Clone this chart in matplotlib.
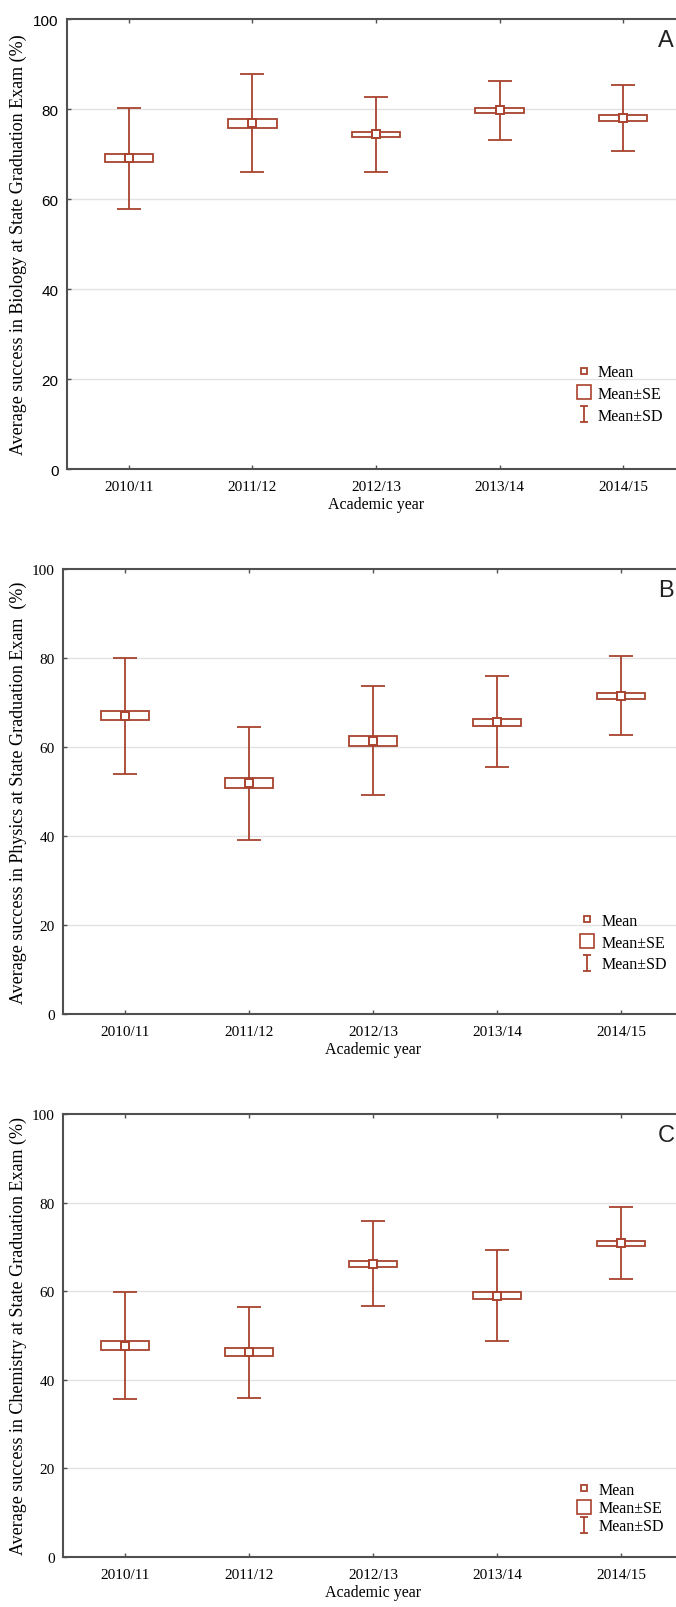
import matplotlib
matplotlib.use("Agg")
import matplotlib.pyplot as plt
from matplotlib.lines import Line2D
from matplotlib.path import Path
import numpy as np

years = ["2010/11", "2011/12", "2012/13", "2013/14", "2014/15"]

bio_mean = [69.1, 76.8, 74.4, 79.7, 78.0]
bio_se_lo = [68.2, 75.8, 73.7, 79.1, 77.3]
bio_se_hi = [70.0, 77.7, 75.0, 80.2, 78.6]
bio_sd_lo = [57.8, 65.9, 66.1, 73.2, 70.6]
bio_sd_hi = [80.3, 87.7, 82.6, 86.3, 85.4]

phys_mean = [67.0, 51.9, 61.4, 65.7, 71.5]
phys_se_lo = [66.0, 50.8, 60.3, 64.8, 70.8]
phys_se_hi = [68.0, 53.0, 62.4, 66.4, 72.2]
phys_sd_lo = [54.0, 39.0, 49.2, 55.4, 62.6]
phys_sd_hi = [79.9, 64.5, 73.6, 76.0, 80.4]

chem_mean = [47.7, 46.3, 66.2, 59.0, 70.8]
chem_se_lo = [46.7, 45.4, 65.4, 58.2, 70.1]
chem_se_hi = [48.7, 47.1, 66.9, 59.8, 71.4]
chem_sd_lo = [35.6, 36.0, 56.7, 48.8, 62.8]
chem_sd_hi = [59.8, 56.5, 75.8, 69.3, 79.1]

RED = "#a9432f"
SPINE = "#505050"
SERIF = "Liberation Serif"
SANS = "Liberation Sans"

W, H = 676, 1608
fig = plt.figure(figsize=(W / 100, H / 100), dpi=100)

# panel boxes in pixels: left, top, right, bottom
panels = [
    dict(box=(67, 20, 685, 470), letter="A", subject="Biology", pct=" (%)",
         mean=bio_mean, se_lo=bio_se_lo, se_hi=bio_se_hi, sd_lo=bio_sd_lo, sd_hi=bio_sd_hi,
         yfont=SANS, leg=(0.81, 0.25), lspace=0.35),
    dict(box=(63, 570, 683, 1015), letter="B", subject="Physics", pct="  (%)",
         mean=phys_mean, se_lo=phys_se_lo, se_hi=phys_se_hi, sd_lo=phys_sd_lo, sd_hi=phys_sd_hi,
         yfont=SERIF, leg=(0.82, 0.245), lspace=0.35),
    dict(box=(63, 1115, 683, 1558), letter="C", subject="Chemistry", pct=" (%)",
         mean=chem_mean, se_lo=chem_se_lo, se_hi=chem_se_hi, sd_lo=chem_sd_lo, sd_hi=chem_sd_hi,
         yfont=SERIF, leg=(0.815, 0.188), lspace=0.15),
]

sd_path = Path([(-0.5, 1), (0.5, 1), (0, 1), (0, -1), (-0.5, -1), (0.5, -1)],
               [Path.MOVETO, Path.LINETO, Path.MOVETO, Path.LINETO, Path.MOVETO, Path.LINETO])

x = np.arange(len(years))

for p in panels:
    l, t, r, b = p["box"]
    ax = fig.add_axes([l / W, (H - b) / H, (r - l) / W, (b - t) / H])
    mean = np.array(p["mean"])
    lo = np.array(p["sd_lo"])
    hi = np.array(p["sd_hi"])
    se_lo = np.array(p["se_lo"])
    se_hi = np.array(p["se_hi"])

    ax.errorbar(x, mean, yerr=[mean - lo, hi - mean], fmt="none", ecolor=RED,
                elinewidth=1.3, capsize=8.6, capthick=1.3, zorder=2)
    ax.bar(x, se_hi - se_lo, bottom=se_lo, width=0.39, color="white",
           edgecolor=RED, linewidth=1.3, zorder=3)
    ax.plot(x, mean, "s", ms=6, mfc="white", mec=RED, mew=1.4, zorder=4)

    ax.set_xlim(-0.5, 4.5)
    ax.set_ylim(0, 100)
    ax.set_yticks([0, 20, 40, 60, 80, 100])
    ax.set_xticks(x)
    ax.set_xticklabels(years, fontfamily=SERIF, fontsize=11)
    for lab in ax.get_yticklabels():
        lab.set_fontfamily(p["yfont"])
        lab.set_fontsize(11)
    ax.tick_params(axis="both", direction="in", length=3, width=1, color=SPINE,
                   top=True, pad=6)
    ax.tick_params(axis="x", pad=8)
    for y in [20, 40, 60, 80]:
        ax.axhline(y, color="#e2e2e2", lw=1, zorder=0)
    for s in ax.spines.values():
        s.set_color(SPINE)
        s.set_linewidth(1.5)

    ax.set_xlabel("Academic year", fontfamily=SERIF, fontsize=11.5, labelpad=2)
    ax.set_ylabel("Average success in " + p["subject"] + " at State Graduation Exam" + p["pct"],
                  fontfamily=SERIF, fontsize=13)
    ax.yaxis.set_label_coords(-(l - 27) / (r - l), 0.5)

    handles = [
        Line2D([], [], ls="none", marker="s", ms=4.5, mfc="none", mec=RED, mew=1.3),
        Line2D([], [], ls="none", marker="s", ms=9.5, mfc="none", mec=RED, mew=1.2),
        Line2D([], [], ls="none", marker=sd_path, ms=12, mfc="none", mec=RED, mew=1.3),
    ]
    ax.legend(handles, ["Mean", "Mean\u00b1SE", "Mean\u00b1SD"], loc="upper left",
              bbox_to_anchor=p["leg"], frameon=False, handlelength=1.0,
              handletextpad=0.4, labelspacing=p["lspace"], borderpad=0,
              prop={"family": SERIF, "size": 11.5})

    fig.text(658 / W, (H - t - 21) / H, p["letter"], fontfamily=SANS, fontsize=17,
             ha="left", va="center", color="#222222")

fig.savefig("out.png", dpi=100)
